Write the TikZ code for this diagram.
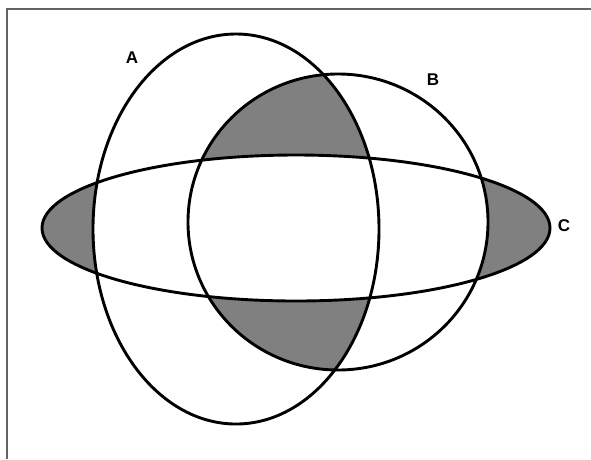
\documentclass[tikz,border=0pt]{standalone}
\usepackage{fontspec}
\setmainfont{Liberation Sans}
\begin{document}
\begin{tikzpicture}[x=1pt,y=-1pt,
  outline/.style={draw=black,line width=2.9pt},
  lbl/.style={font=\bfseries\fontsize{17}{20}\selectfont,inner sep=0pt},
  shade/.style={fill={rgb,255:red,128;green,128;blue,128}}]
\useasboundingbox (0,0) rectangle (591,459);
\fill[white] (0,0) rectangle (591,459);
\draw[draw={rgb,255:red,100;green,100;blue,100},line width=2pt] (7,459) -- (7,8.5) -- (591,8.5);
\def\ellA{(236,229) ellipse [x radius=143,y radius=195]}
\def\ellB{(338,222) ellipse [x radius=150,y radius=148]}
\def\ellC{(296,228) ellipse [x radius=254,y radius=73]}
% C only
\begin{scope}
  \clip \ellC;
  \fill[shade] \ellC;
  \fill[white] \ellA;
  \fill[white] \ellB;
\end{scope}
% A and B, not C
\begin{scope}
  \clip \ellA;
  \clip \ellB;
  \fill[shade] (0,0) rectangle (591,459);
  \fill[white] \ellC;
\end{scope}
\draw[outline] \ellA;
\draw[outline] \ellB;
\draw[outline] \ellC;
\node[lbl] (la) at (132,58) {A};
\node[lbl] (lb) at (433,80) {B};
\node[lbl] (lc) at (564,226) {C};
\end{tikzpicture}
\end{document}
